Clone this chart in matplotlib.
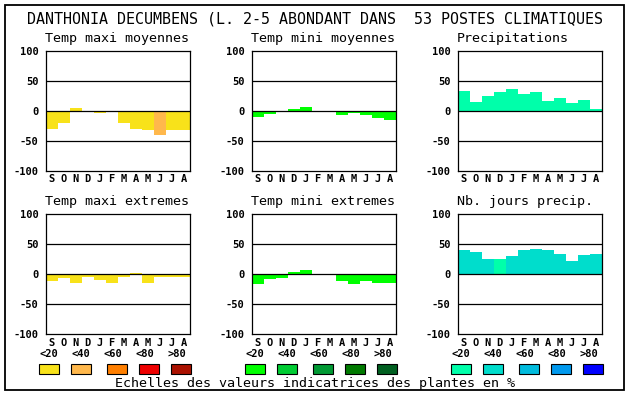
"""Climate indicator panels for Danthonia decumbens, redrawn with matplotlib."""

import matplotlib
matplotlib.use("Agg")
import matplotlib.pyplot as plt  # noqa: E402
import matplotlib.patches as mpatches  # noqa: E402

W, H = 630, 394
FONT = "DejaVu Sans Mono"

# -- data --
months = ["S", "O", "N", "D", "J", "F", "M", "A", "M", "J", "J", "A"]

tmax_moy = [-31, -21, 4, 0, -4, -2, -21, -31, -32, -41, -32, -32]
tmax_moy_cls = [0, 0, 0, 0, 0, 0, 0, 0, 0, 1, 0, 0]
tmin_moy = [-11, -6, 0, 2, 6, 0, 0, -8, -4, -8, -13, -15]
tmin_moy_cls = [0] * 12
precip = [32, 14, 24, 31, 36, 27, 31, 16, 21, 12, 17, 2]
precip_cls = [0] * 12
tmax_ext = [-12, -6, -14, -5, -10, -15, -4, 2, -15, -5, -5, -5]
tmax_ext_cls = [0] * 12
tmin_ext = [-17, -8, -6, 4, 7, 0, -2, -12, -17, -11, -14, -15]
tmin_ext_cls = [0] * 12
nb_jours = [40, 37, 25, 25, 30, 40, 42, 40, 34, 22, 32, 34]
nb_jours_cls = [1, 1, 1, 0, 1, 1, 1, 1, 1, 1, 1, 1]

scale_labels = ["<20", "<40", "<60", "<80", ">80"]
warm_colors = ["#F8E21A", "#FFB84C", "#FF7F00", "#EE0000", "#AA1100"]
green_colors = ["#00FF00", "#00CC33", "#009933", "#007A00", "#005F20"]
blue_colors = ["#00FFAA", "#00DDCC", "#00BBDD", "#0099EE", "#0000FF"]
y_ticks = [-100, -50, 0, 50, 100]

title = "DANTHONIA DECUMBENS (L. 2-5 ABONDANT DANS  53 POSTES CLIMATIQUES"
footer = "Echelles des valeurs indicatrices des plantes en %"

panels = [
    ("Temp maxi moyennes", tmax_moy, tmax_moy_cls, warm_colors),
    ("Temp mini moyennes", tmin_moy, tmin_moy_cls, green_colors),
    ("Precipitations", precip, precip_cls, blue_colors),
    ("Temp maxi extremes", tmax_ext, tmax_ext_cls, warm_colors),
    ("Temp mini extremes", tmin_ext, tmin_ext_cls, green_colors),
    ("Nb. jours precip.", nb_jours, nb_jours_cls, blue_colors),
]

# pixel layout (top-left origin)
col_left = [45.7, 251.7, 457.7]
ax_w = 144.0
row_top = [50.7, 214.3]
ax_h = 119.8


def fx(x):
    return x / W


def fy(y):
    return 1 - y / H


fig = plt.figure(figsize=(W / 100, H / 100), dpi=100)
fig.patch.set_facecolor("white")

# outer frame
fig.patches.append(mpatches.Rectangle(
    (fx(5), fy(390)), fx(624) - fx(5), fy(5) - fy(390),
    transform=fig.transFigure, fill=False, edgecolor="black", linewidth=1.3))

fig.text(fx(27), fy(23.3), title, fontsize=10.8, family=FONT,
         ha="left", va="baseline")

for i, (name, vals, cls, pal) in enumerate(panels):
    r, c = divmod(i, 3)
    left, top = col_left[c], row_top[r]
    ax = fig.add_axes([fx(left), fy(top + ax_h), ax_w / W, ax_h / H])
    ax.bar(range(12), vals, width=1.0, align="edge",
           color=[pal[k] for k in cls], linewidth=0, zorder=2)
    for yv in (-50, 0, 50):
        ax.axhline(yv, color="black", linewidth=0.9, zorder=3)
    ax.set_xlim(0, 12)
    ax.set_ylim(-100, 100)
    ax.set_yticks(y_ticks)
    ax.set_yticklabels([str(v) for v in y_ticks], fontsize=7.5,
                       fontweight="bold", family=FONT)
    ax.set_xticks([k + 0.5 for k in range(12)])
    ax.set_xticklabels(months, fontsize=7.5, fontweight="bold", family=FONT)
    ax.tick_params(length=0)
    ax.tick_params(axis="y", pad=5.3)
    ax.tick_params(axis="x", pad=2.6)
    for sp in ax.spines.values():
        sp.set_linewidth(0.9)
    fig.text(fx(left - 0.5), fy(top - 9.0), name, fontsize=9.6, family=FONT,
             ha="left", va="baseline")

    # colour scale legend under the bottom row
    if r == 1:
        for k, (lab, col) in enumerate(zip(scale_labels, pal)):
            cx = left + 3.6 + 32 * k
            fig.text(fx(cx), fy(357.3), lab, fontsize=7.5, fontweight="bold",
                     family=FONT, ha="center", va="baseline")
            bx = left + [-6.4, 25.6, 61.6, 93.6, 125.6][k]
            fig.patches.append(mpatches.Rectangle(
                (fx(bx), fy(374)), 20 / W, 10 / H,
                transform=fig.transFigure, facecolor=col,
                edgecolor="black", linewidth=0.8))

fig.text(fx(315), fy(386.7), footer, fontsize=9.6, family=FONT,
         ha="center", va="baseline")

fig.savefig("out.png", dpi=100, facecolor=fig.get_facecolor())
plt.close(fig)
